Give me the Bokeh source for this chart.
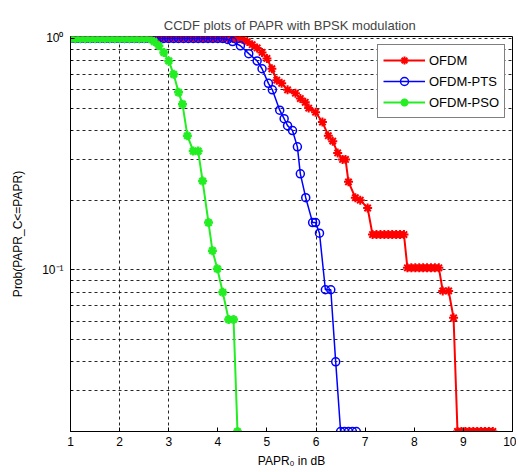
from bokeh.plotting import figure
from bokeh.models import FixedTicker, CustomJSTickFormatter, Range1d
from bokeh.embed import file_html
from bokeh.resources import INLINE

# ---------------- data ----------------
ofdm_x = [1.0, 1.1, 1.2, 1.3, 1.4, 1.5, 1.6, 1.7, 1.8, 1.9, 2.0, 2.1, 2.2, 2.3, 2.4, 2.5,
          2.6, 2.7, 2.8, 2.9, 3.0, 3.1, 3.2, 3.3, 3.4, 3.5, 3.6, 3.7, 3.8, 3.9, 4.0, 4.1,
          4.2, 4.3, 4.4, 4.5, 4.6, 4.7, 4.8, 4.9, 5.0, 5.1, 5.2, 5.3, 5.42, 5.58, 5.68,
          5.78, 5.85, 5.99, 6.13, 6.25, 6.34, 6.44, 6.54, 6.6, 6.66, 6.8, 6.9, 7.05, 7.15,
          7.23, 7.31, 7.39, 7.47, 7.55, 7.63, 7.71, 7.79, 7.86, 7.94, 8.02, 8.1, 8.18,
          8.26, 8.34, 8.42, 8.5, 8.58, 8.7, 8.8, 8.88, 8.96, 9.04, 9.12, 9.2, 9.28, 9.36,
          9.44, 9.52, 9.6]
ofdm_y = [1.0, 1.0, 1.0, 1.0, 1.0, 1.0, 1.0, 1.0, 1.0, 1.0, 1.0, 1.0, 1.0, 1.0, 1.0, 1.0,
          1.0, 1.0, 1.0, 1.0, 1.0, 1.0, 1.0, 1.0, 1.0, 1.0, 1.0, 1.0, 1.0, 1.0, 1.0, 1.0,
          1.0, 1.0, 1.0, 0.99, 0.97, 0.94, 0.91, 0.87, 0.82, 0.74, 0.66, 0.64, 0.6, 0.58, 0.55,
          0.53, 0.5, 0.48, 0.435, 0.38, 0.36, 0.32, 0.3, 0.3, 0.24, 0.205, 0.2, 0.185, 0.142,
          0.142, 0.142, 0.142, 0.142, 0.142, 0.142, 0.142, 0.142, 0.102, 0.102, 0.102, 0.102, 0.102,
          0.102, 0.102, 0.102, 0.102, 0.081, 0.081, 0.062, 0.02, 0.02, 0.02, 0.02, 0.02, 0.02, 0.02,
          0.02, 0.02, 0.02]

pts_x = [1.0, 1.1, 1.2, 1.3, 1.4, 1.5, 1.6, 1.7, 1.8, 1.9, 2.0, 2.1, 2.2, 2.3, 2.4, 2.5,
         2.6, 2.7, 2.8, 2.9, 3.0, 3.1, 3.2, 3.3, 3.4, 3.5, 3.6, 3.7, 3.8, 3.9, 4.0, 4.1,
         4.2, 4.3, 4.46, 4.63, 4.8, 4.9, 5.03, 5.11, 5.26, 5.35, 5.42, 5.52, 5.62, 5.68,
         5.79, 5.93, 5.99, 6.07, 6.19, 6.3, 6.4, 6.5, 6.58, 6.66, 6.74, 6.82]
pts_y = [1.0, 1.0, 1.0, 1.0, 1.0, 1.0, 1.0, 1.0, 1.0, 1.0, 1.0, 1.0, 1.0, 1.0, 1.0, 1.0,
         1.0, 1.0, 1.0, 1.0, 1.0, 1.0, 1.0, 1.0, 1.0, 1.0, 1.0, 1.0, 1.0, 1.0, 1.0, 1.0,
         0.99, 0.97, 0.93, 0.86, 0.8, 0.74, 0.64, 0.6, 0.49, 0.45, 0.42, 0.4, 0.34, 0.26,
         0.205, 0.16, 0.16, 0.144, 0.082, 0.082, 0.04, 0.02, 0.02, 0.02, 0.02, 0.02]

pso_x = [1.0, 1.1, 1.2, 1.3, 1.4, 1.5, 1.6, 1.7, 1.8, 1.9, 2.0, 2.1, 2.2, 2.3, 2.4, 2.5,
         2.6, 2.7, 2.8, 2.9, 3.0, 3.1, 3.2, 3.28, 3.38, 3.5, 3.6, 3.69, 3.81, 3.89, 3.99,
         4.1, 4.22, 4.32, 4.4]
pso_y = [1.0, 1.0, 1.0, 1.0, 1.0, 1.0, 1.0, 1.0, 1.0, 1.0, 1.0, 1.0, 1.0, 1.0, 1.0, 1.0,
         1.0, 0.97, 0.93, 0.87, 0.8, 0.7, 0.585, 0.52, 0.38, 0.326, 0.326, 0.242, 0.16, 0.121,
         0.101, 0.08, 0.061, 0.061, 0.02]

series_names = ["OFDM", "OFDM-PTS", "OFDM-PSO"]
x_ticks = [1, 2, 3, 4, 5, 6, 7, 8, 9, 10]
x_grid_ticks = [2, 3, 6]
y_major_ticks = [0.1, 1.0]
y_minor_ticks = [0.02, 0.03, 0.04, 0.05, 0.06, 0.07, 0.08, 0.09,
                 0.2, 0.3, 0.4, 0.5, 0.6, 0.7, 0.8, 0.9]

FONT = "Liberation Sans"

p = figure(width=516, height=470, y_axis_type="log",
           x_range=Range1d(1, 10), y_range=Range1d(0.02, 1.02),
           output_backend="svg", toolbar_location=None,
           min_border_left=70, min_border_right=4, min_border_top=36, min_border_bottom=39,
           title="CCDF plots of PAPR  with BPSK modulation")

p.title.align = "center"
p.title.text_font = FONT
p.title.text_font_size = "13px"
p.title.text_font_style = "normal"
p.title.standoff = 7

p.outline_line_color = "black"
p.outline_line_width = 1
p.outline_line_alpha = 1
p.background_fill_color = "white"
p.border_fill_color = "white"

# axes
p.xaxis.ticker = FixedTicker(ticks=x_ticks)
p.yaxis.ticker = FixedTicker(ticks=y_major_ticks, minor_ticks=y_minor_ticks)
p.yaxis.formatter = CustomJSTickFormatter(code="""
const e = Math.round(Math.log10(tick));
const sup = {'0':'\u2070','1':'\u00b9','2':'\u00b2','3':'\u00b3','-':'\u207b'};
return '10' + String(e).split('').map(c => sup[c]).join('');
""")
for ax in (p.xaxis[0], p.yaxis[0]):
    ax.axis_line_color = "black"
    ax.major_tick_line_color = "black"
    ax.minor_tick_line_color = "black"
    ax.major_tick_in = 4
    ax.major_tick_out = 0
    ax.minor_tick_in = 2
    ax.minor_tick_out = 0
    ax.major_label_text_font = FONT
    ax.major_label_text_font_size = "12px"
    ax.major_label_text_color = "black"
    ax.axis_label_text_font = FONT
    ax.axis_label_text_font_size = "12px"
    ax.axis_label_text_font_style = "normal"
    ax.axis_label_text_color = "black"

p.xaxis.axis_label = "PAPR\u2080 in dB"
p.xaxis.major_label_standoff = 5
p.xaxis.axis_label_standoff = 5
p.xaxis.minor_tick_in = 0

p.yaxis.axis_label = "Prob(PAPR_C<=PAPR)"
p.yaxis.major_label_standoff = 7
p.yaxis.axis_label_standoff = 14

# grids (dotted, black)
p.xgrid.ticker = FixedTicker(ticks=x_grid_ticks)
p.xgrid.grid_line_color = "black"
p.xgrid.grid_line_dash = "3 3"
p.xgrid.grid_line_alpha = 0.85
p.ygrid.grid_line_color = "black"
p.ygrid.grid_line_dash = "3 3"
p.ygrid.grid_line_alpha = 0.85
p.ygrid.minor_grid_line_color = "black"
p.ygrid.minor_grid_line_dash = "3 3"
p.ygrid.minor_grid_line_alpha = 0.85

# series
p.line(ofdm_x, ofdm_y, line_color="#ff0000", line_width=2, legend_label=series_names[0])
p.scatter(ofdm_x, ofdm_y, marker="asterisk", size=9, line_color="#ff0000", line_width=2,
          legend_label=series_names[0])

p.line(pts_x, pts_y, line_color="#0000ff", line_width=1.5, legend_label=series_names[1])
p.scatter(pts_x, pts_y, marker="circle", size=8, line_color="#0000ff", fill_color=None,
          line_width=1.5, legend_label=series_names[1])

p.line(pso_x, pso_y, line_color="#22ee22", line_width=2, legend_label=series_names[2])
p.scatter(pso_x, pso_y, marker="asterisk", size=9, line_color="#22ee22", line_width=2.5,
          legend_label=series_names[2])

lg = p.legend[0]
lg.location = (307, 313)
lg.border_line_color = "black"
lg.border_line_width = 1
lg.background_fill_color = "white"
lg.background_fill_alpha = 1
lg.label_text_font = FONT
lg.label_text_font_size = "13px"
lg.label_text_color = "black"
lg.glyph_width = 42
lg.glyph_height = 20
lg.label_height = 20
lg.label_standoff = 4
lg.spacing = 1
lg.padding = 5
lg.margin = 0

open("out.html", "w").write(file_html(p, INLINE))
